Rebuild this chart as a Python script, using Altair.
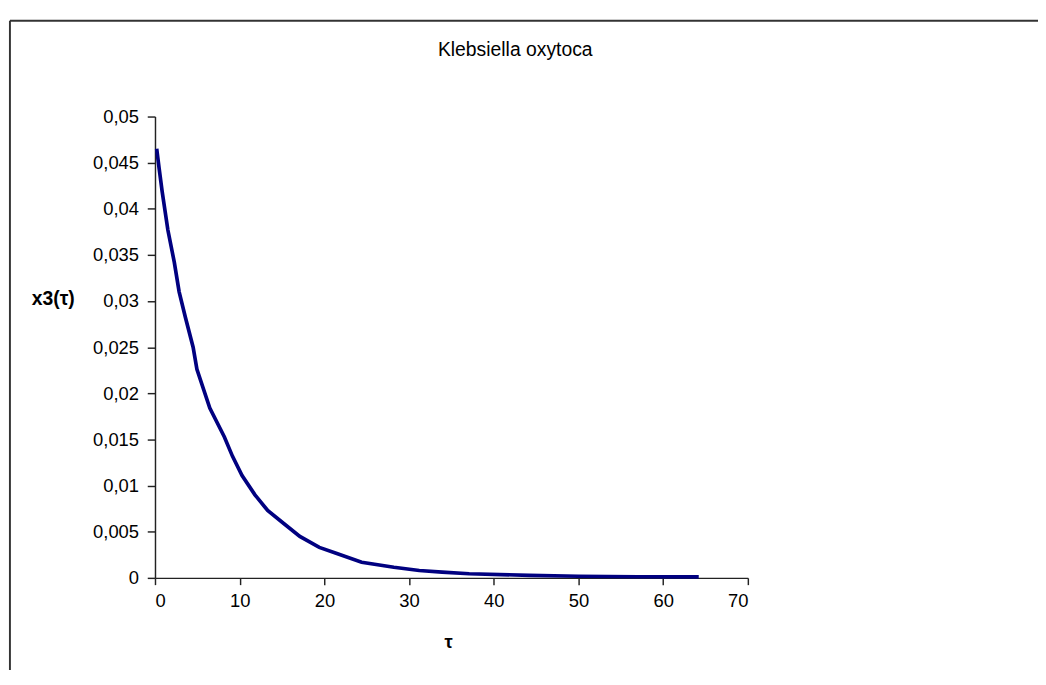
import altair as alt
import pandas as pd

# values
tau = [0.2, 0.5, 0.84, 1.52, 2.28, 2.85, 3.6, 4.5, 4.95, 6.47, 8.18, 9.14, 10.28,
       11.8, 13.3, 15.2, 17.1, 19.4, 21.3, 24.4, 28.2, 31.2, 33.9, 37.1, 44.2,
       50.0, 57.0, 64.2]
x3 = [0.0465, 0.0443, 0.0419, 0.0377, 0.0342, 0.0310, 0.0282, 0.0250, 0.0226,
      0.0184, 0.0153, 0.0132, 0.0111, 0.0090, 0.0073, 0.0059, 0.0045, 0.0033,
      0.0027, 0.0017, 0.00115, 0.0008, 0.00063, 0.00045, 0.00028, 0.00018,
      0.00012, 0.0001]
x_ticks = [0, 10, 20, 30, 40, 50, 60, 70]
y_ticks = [0, 0.005, 0.01, 0.015, 0.02, 0.025, 0.03, 0.035, 0.04, 0.045, 0.05]
title_text = "Klebsiella oxytoca"

df = pd.DataFrame({"tau": tau, "x3": x3})
FONT = "Liberation Sans"

line = alt.Chart(df).mark_line(color="#000080", strokeWidth=3.8).encode(
    x=alt.X("tau:Q",
            scale=alt.Scale(domain=[0, 70], nice=False, zero=True),
            axis=alt.Axis(values=x_ticks, grid=False, title="τ",
                          labelExpr="replace(format(datum.value, '~g'), '.', ',')",
                          tickSize=7, labelPadding=8, labelFontSize=19,
                          titleFontSize=19, titleFontWeight="bold",
                          titleX=303, titleY=66, titleAlign="center",
                          titleBaseline="middle")),
    y=alt.Y("x3:Q",
            scale=alt.Scale(domain=[0, 0.05], nice=False, zero=True),
            axis=alt.Axis(values=y_ticks, grid=False, title="x3(τ)",
                          labelExpr="replace(format(datum.value, '~g'), '.', ',')",
                          tickSize=8, labelPadding=9, labelFontSize=19,
                          titleFontSize=20, titleFontWeight="bold",
                          titleAngle=0, titleX=-128, titleY=188,
                          titleAlign="left", titleBaseline="middle")),
)

one = pd.DataFrame({"k": [0]})
frame_top = alt.Chart(one).mark_rule(color="#333333", strokeWidth=2).encode(
    x=alt.value(-150), x2=alt.value(1000), y=alt.value(-99),
)
frame_left = alt.Chart(one).mark_rule(color="#333333", strokeWidth=2).encode(
    x=alt.value(-150), y=alt.value(-99), y2=alt.value(700),
)

chart = alt.layer(frame_top, frame_left, line).properties(
    width=613, height=477,
    background="white",
    title=alt.TitleParams(title_text, fontSize=20, fontWeight="normal",
                          font=FONT, anchor="middle", frame="group", dx=66,
                          offset=-57, baseline="alphabetic",
                          color="#000000"),
    autosize=alt.AutoSizeParams(type="none"),
    padding={"left": 152, "top": 101, "right": 300, "bottom": 84},
).configure_view(strokeWidth=0, stroke="transparent").configure_axis(
    labelFont=FONT, titleFont=FONT, labelColor="#000000", titleColor="#000000",
    domainColor="#222222", tickColor="#222222", domainWidth=1.5, tickWidth=1.5,
)

chart.save("out.html", embed_options={"renderer": "svg", "actions": False})
